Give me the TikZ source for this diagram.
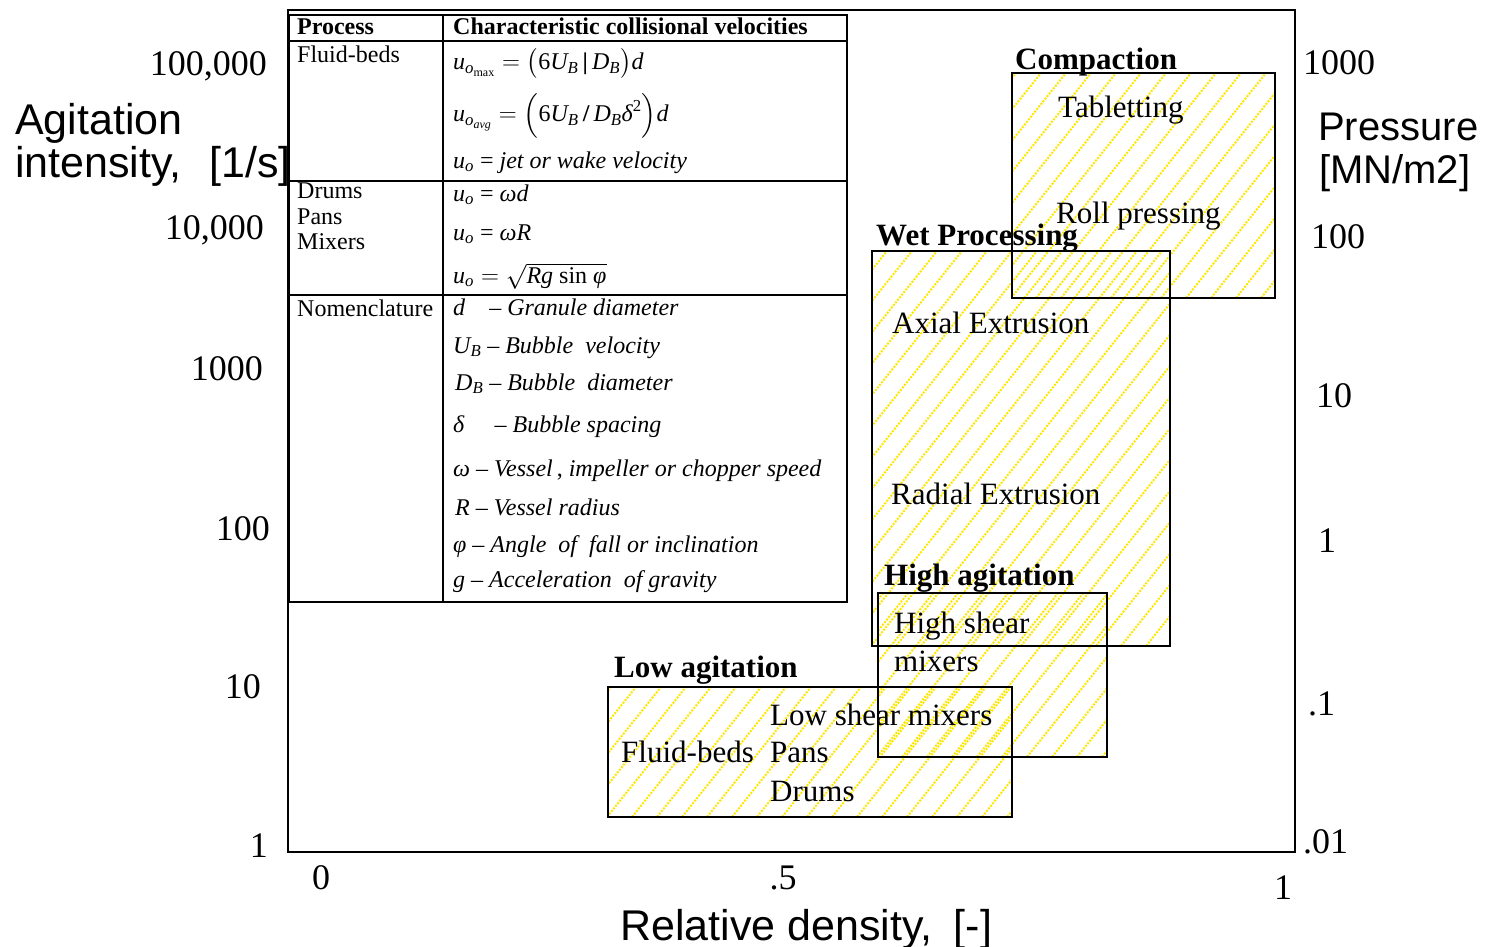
\documentclass[tikz,border=0pt]{standalone}
\usepackage{amsmath}
\usepackage{fontspec}
\setmainfont{Liberation Serif}
\setsansfont{Liberation Sans}
\newcommand\ti[1]{\textit{#1}}
\newcommand\hatchbox[4]{%
  \begin{scope}
    \clip (#1,#2) rectangle (#3,#4);
    \foreach \i in {0,...,40} {\draw[hatch] ({#1-330+25*\i},#4+5) -- ++(424,-530);}
  \end{scope}}
\begin{document}
\begin{tikzpicture}[x=1pt,y=-1pt,
  hatch/.style={draw={rgb,255:red,255;green,230;blue,0},line width=2pt,dash pattern=on 2pt off 1.3pt},
  boxline/.style={draw=black,line width=2.5pt},
  frameline/.style={draw=black,line width=2.2pt},
  tabline/.style={draw=black,line width=2pt},
  lbl/.style={inner sep=0pt,anchor=base west,font=\fontsize{31}{36}\selectfont},
  blbl/.style={inner sep=0pt,anchor=base west,font=\fontsize{31}{36}\selectfont\bfseries},
  tick/.style={inner sep=0pt,font=\fontsize{36}{40}\selectfont},
  axis/.style={inner sep=0pt,anchor=base west,font=\sffamily\fontsize{43}{47}\selectfont},
  raxis/.style={inner sep=0pt,anchor=base west,font=\sffamily\fontsize{40}{44}\selectfont},
  tab/.style={inner sep=0pt,anchor=base west,font=\fontsize{24}{26}\selectfont},
  tabb/.style={inner sep=0pt,anchor=base west,font=\fontsize{24}{26}\selectfont\bfseries},
  eq/.style={inner sep=0pt,anchor=base west,font=\fontsize{24}{26}\selectfont}]
\useasboundingbox (0,0) rectangle (1491,947);
% plot frame
\draw[frameline] (288,10) rectangle (1295,852);
% hatched regions
\hatchbox{1012}{73}{1275}{298}
\hatchbox{872}{251}{1170}{646}
\hatchbox{878}{593}{1107}{757}
\hatchbox{608}{687}{1012}{817}
\draw[boxline] (1012,73) rectangle (1275,298);
\draw[boxline] (872,251) rectangle (1170,646);
\draw[boxline] (878,593) rectangle (1107,757);
\draw[boxline] (608,687) rectangle (1012,817);
% region labels
\node[blbl] (comp) at (1015,70) {Compaction};
\node[blbl] (wet) at (876,245) {Wet Processing};
\node[blbl] (high) at (884,585) {High agitation};
\node[blbl] (low) at (614,677) {Low agitation};
\node[lbl] (tab1) at (1058,118) {Tabletting};
\node[lbl] (roll) at (1056,223) {Roll pressing};
\node[lbl] (axial) at (892,333) {Axial Extrusion};
\node[lbl] (radial) at (891,504) {Radial Extrusion};
\node[lbl] (hs) at (894,633) {High shear};
\node[lbl] (hsm) at (894,671) {mixers};
\node[lbl] (ls) at (770,725) {Low shear mixers};
\node[lbl] (fb) at (621,762) {Fluid-beds};
\node[lbl] (pans) at (770,762) {Pans};
\node[lbl] (drums) at (770,801) {Drums};
% table
\fill[white] (289,15) rectangle (847,602);
\draw[tabline] (289,15) rectangle (847,602);
\draw[tabline] (443,15) -- (443,602);
\draw[tabline] (289,41) -- (847,41);
\draw[tabline] (289,181) -- (847,181);
\draw[tabline] (289,295) -- (847,295);
\node[tabb] (hproc) at (297,35) {Process};
\node[tabb] (hchar) at (453,35) {Characteristic collisional velocities};
\node[tab] (pfb) at (297,63) {Fluid-beds};
\node[tab] (pdr) at (297,198) {Drums};
\node[tab] (ppa) at (297,224) {Pans};
\node[tab] (pmi) at (297,249) {Mixers};
\node[tab] (pno) at (297,316) {Nomenclature};
\node[eq] (e1) at (453,70) {$\ti{u}_{\ti{o}_{\text{max}}} = \bigl(\text{6}\ti{U}_{\ti{B}}\,\textbf{|}\,\ti{D}_{\ti{B}}\bigr)\ti{d}$};
\node[eq] (e2) at (453,122) {$\ti{u}_{\ti{o}_{\ti{avg}}} = \Bigl(\text{6}\ti{U}_{\ti{B}}\,\textbf{/}\,\ti{D}_{\ti{B}}\ti{δ}^{\text{2}}\Bigr)\ti{d}$};
\node[eq] (e3) at (453,168) {$\ti{u}_{\ti{o}}$ = \ti{jet or wake velocity}};
\node[eq] (e4) at (453,201) {$\ti{u}_{\ti{o}}$ = \ti{ωd}};
\node[eq] (e5) at (453,240) {$\ti{u}_{\ti{o}}$ = \ti{ωR}};
\node[eq] (e6) at (453,283) {$\ti{u}_{\ti{o}} = \sqrt{\ti{Rg}\ \text{sin}\ \ti{φ}}$};
\node[eq] (n1) at (453,315) {\ti{d}\quad – \ti{Granule diameter}};
\node[eq] (n2) at (453,353) {$\ti{U}_{\ti{B}}$ – \ti{Bubble\ \ velocity}};
\node[eq] (n3) at (455,390) {$\ti{D}_{\ti{B}}$ – \ti{Bubble\ \ diameter}};
\node[eq] (n4) at (453,432) {\ti{δ}\quad\ – \ti{Bubble spacing}};
\node[eq] (n5) at (453,476) {\ti{ω} – \ti{Vessel}\,, \ti{impeller or chopper speed}};
\node[eq] (n6) at (455,515) {\ti{R} – \ti{Vessel radius}};
\node[eq] (n7) at (453,552) {\ti{φ} – \ti{Angle\ \ of\ \ fall or inclination}};
\node[eq] (n8) at (453,587) {\ti{g} – \ti{Acceleration\ \ of gravity}};
% left ticks
\node[tick,anchor=base east] (l5) at (267,76) {100,000};
\node[tick,anchor=base east] (l4) at (264,239) {10,000};
\node[tick,anchor=base east] (l3) at (263,380) {1000};
\node[tick,anchor=base east] (l2) at (270,540) {100};
\node[tick,anchor=base east] (l1) at (261,698) {10};
\node[tick,anchor=base east] (l0) at (268,857) {1};
% right ticks
\node[tick,anchor=base west] (r5) at (1303,75) {1000};
\node[tick,anchor=base west] (r4) at (1311,248) {100};
\node[tick,anchor=base west] (r3) at (1316,407) {10};
\node[tick,anchor=base west] (r2) at (1318,552) {1};
\node[tick,anchor=base west] (r1) at (1308,715) {.1};
\node[tick,anchor=base west] (r0) at (1303,853) {.01};
% bottom ticks
\node[tick,anchor=base] (b0) at (321,889) {0};
\node[tick,anchor=base] (b1) at (783,889) {.5};
\node[tick,anchor=base] (b2) at (1283,899) {1};
% axis labels
\node[axis] (ya1) at (15,135) {Agitation};
\node[axis] (ya2) at (15,178) {intensity,\hspace{0.65em}[1/s]};
\node[raxis] (pa1) at (1318,140) {Pressure};
\node[raxis] (pa2) at (1319,183) {[MN/m2]};
\node[axis] (xa) at (620,940) {Relative density,\hspace{0.5em}[-]};
\end{tikzpicture}
\end{document}
